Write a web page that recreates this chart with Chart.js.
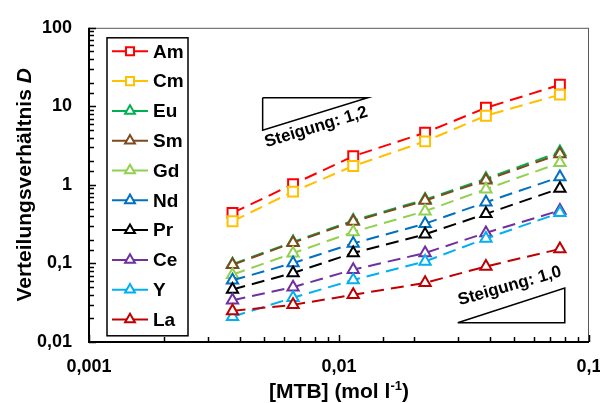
<!DOCTYPE html>
<html lang="de">
<head>
<meta charset="utf-8">
<title>Verteilungsverhältnis</title>
<script src="https://cdn.jsdelivr.net/npm/chart.js@4/dist/chart.umd.min.js"></script>
<style>
  html, body { margin: 0; padding: 0; background: #fff; }
  #wrap { width: 600px; height: 403px; }
</style>
</head>
<body>
<div id="wrap"><canvas id="chart" width="600" height="403"></canvas></div>
<script>
// Daten
const mtb = [0.00375, 0.00655, 0.0114, 0.0221, 0.0387, 0.0765];

const elements = ['Am', 'Cm', 'Eu', 'Sm', 'Gd', 'Nd', 'Pr', 'Ce', 'Y', 'La'];
const am = [0.44, 1.02, 2.32, 4.62, 9.58, 18.8];
const cm = [0.344, 0.82, 1.74, 3.58, 7.6, 14.1];
const eu = [0.098, 0.188, 0.352, 0.65, 1.2, 2.63];
const sm = [0.096, 0.184, 0.342, 0.631, 1.15, 2.48];
const gd = [0.072, 0.135, 0.252, 0.463, 0.883, 1.91];
const nd = [0.061, 0.101, 0.18, 0.321, 0.601, 1.26];
const pr = [0.0467, 0.0755, 0.136, 0.235, 0.428, 0.901];
const ce = [0.034, 0.0499, 0.0834, 0.136, 0.245, 0.473];
const yt = [0.021, 0.0366, 0.0617, 0.106, 0.208, 0.441];
const la = [0.0249, 0.0297, 0.0399, 0.0566, 0.0916, 0.153];
const seriesValues = [am, cm, eu, sm, gd, nd, pr, ce, yt, la];

const yTickLabels = ['0,01', '0,1', '1', '10', '100'];
const xTickLabels = ['0,001', '0,01', '0,1'];

// Steigungsdreiecke (Datenkoordinaten)
const slopeTriangle1 = { x: [0.00495, 0.01303, 0.00495, 0.00495], y: [12.9, 12.9, 4.97, 12.9] };
const slopeTriangle2 = { x: [0.02984, 0.08, 0.08, 0.02984], y: [0.0176, 0.0176, 0.0485, 0.0176] };
const slopeLabels = ['Steigung: 1,2', 'Steigung: 1,0'];
const slopeLabelAnchors = [{ x: 0.0081, y: 5.42, angle: -17 }, { x: 0.0482, y: 0.0514, angle: -16 }];

const colors = ['#FF0000', '#FFC000', '#00B050', '#7E4A1C', '#92D050', '#0070C0', '#000000', '#7030A0', '#00B0F0', '#C00000'];
const styles = ['rect', 'rect', 'triangle', 'triangle', 'triangle', 'triangle', 'triangle', 'triangle', 'triangle', 'triangle'];

const FONT = 'Arial, "Liberation Sans", sans-serif';

function toPoints(xs, ys) {
  return xs.map((x, i) => ({ x: x, y: ys[i] }));
}

// Datensätze bauen
const datasets = elements.map((name, i) => ({
  label: name,
  data: toPoints(mtb, seriesValues[i]),
  borderColor: colors[i],
  backgroundColor: '#fff',
  borderWidth: 2,
  borderDash: [13, 7],
  pointStyle: styles[i],
  pointRadius: styles[i] === 'rect' ? 7 : 6.5,
  pointBorderWidth: 2,
  pointBackgroundColor: '#fff',
  pointBorderColor: colors[i],
  order: -i,
  inLegend: true
}));

[slopeTriangle1, slopeTriangle2].forEach(t => {
  datasets.push({
    label: '',
    data: toPoints(t.x, t.y),
    borderColor: '#000',
    borderWidth: 1.5,
    pointRadius: 0,
    order: 50,
    inLegend: false
  });
});

// Marker für die Legende zeichnen
function drawMarker(ctx, style, cx, cy, r, color) {
  ctx.beginPath();
  if (style === 'rect') {
    const s = r * Math.SQRT1_2;
    ctx.rect(cx - s, cy - s, 2 * s, 2 * s);
  } else {
    ctx.moveTo(cx, cy - r);
    ctx.lineTo(cx + r * 0.866, cy + r / 2);
    ctx.lineTo(cx - r * 0.866, cy + r / 2);
    ctx.closePath();
  }
  ctx.fillStyle = '#fff';
  ctx.fill();
  ctx.strokeStyle = color;
  ctx.lineWidth = 2;
  ctx.stroke();
}

function isMajor(v) {
  const l = Math.log10(v);
  return Math.abs(l - Math.round(l)) < 1e-6;
}

// Rahmen, Ticks, Titel, Legende und Beschriftungen
const decorations = {
  id: 'decorations',
  afterDraw(chart) {
    const { ctx, chartArea: a, scales: { x, y } } = chart;
    ctx.save();

    // Rahmen
    ctx.strokeStyle = '#595959';
    ctx.lineWidth = 1;
    ctx.strokeRect(a.left + 0.5, a.top + 0.5, a.right - a.left - 1, a.bottom - a.top);
    ctx.strokeStyle = '#000';
    ctx.lineWidth = 2;
    ctx.beginPath();
    ctx.moveTo(a.left, a.top);
    ctx.lineTo(a.left, a.bottom);
    ctx.lineTo(a.right, a.bottom);
    ctx.stroke();

    // Ticks nach innen
    ctx.lineWidth = 1.5;
    y.ticks.forEach(t => {
      const py = Math.round(y.getPixelForValue(t.value)) + 0.5;
      const len = isMajor(t.value) ? 7 : 5;
      ctx.beginPath();
      ctx.moveTo(a.left, py);
      ctx.lineTo(a.left + len, py);
      ctx.stroke();
    });
    x.ticks.forEach(t => {
      const px = Math.round(x.getPixelForValue(t.value)) + 0.5;
      const len = isMajor(t.value) ? 7 : 5;
      ctx.beginPath();
      ctx.moveTo(px, a.bottom);
      ctx.lineTo(px, a.bottom - len);
      ctx.stroke();
    });

    // Y-Achsentitel
    ctx.fillStyle = '#000';
    ctx.textBaseline = 'middle';
    ctx.save();
    ctx.translate(25, (a.top + a.bottom) / 2);
    ctx.rotate(-Math.PI / 2);
    const partA = 'Verteilungsverhältnis ';
    ctx.font = 'bold 21px ' + FONT;
    const wA = ctx.measureText(partA).width;
    ctx.font = 'italic bold 21px ' + FONT;
    const wD = ctx.measureText('D').width;
    let sx = -(wA + wD) / 2;
    ctx.textAlign = 'left';
    ctx.font = 'bold 21px ' + FONT;
    ctx.fillText(partA, sx, 0);
    ctx.font = 'italic bold 21px ' + FONT;
    ctx.fillText('D', sx + wA, 0);
    ctx.restore();

    // X-Achsentitel mit Hochzahl
    const t1 = '[MTB] (mol l', t2 = '-1', t3 = ')';
    ctx.font = 'bold 21px ' + FONT;
    const w1 = ctx.measureText(t1).width;
    const w3 = ctx.measureText(t3).width;
    ctx.font = 'bold 13px ' + FONT;
    const w2 = ctx.measureText(t2).width;
    const cx = (a.left + a.right) / 2;
    const ty = 392;
    let tx = cx - (w1 + w2 + w3) / 2;
    ctx.textAlign = 'left';
    ctx.font = 'bold 21px ' + FONT;
    ctx.fillText(t1, tx, ty);
    ctx.font = 'bold 13px ' + FONT;
    ctx.fillText(t2, tx + w1, ty - 6);
    ctx.font = 'bold 21px ' + FONT;
    ctx.fillText(t3, tx + w1 + w2, ty);

    // Steigungs-Beschriftungen
    ctx.font = 'bold 17px ' + FONT;
    ctx.textAlign = 'center';
    slopeLabels.forEach((label, i) => {
      const p = slopeLabelAnchors[i];
      ctx.save();
      ctx.translate(x.getPixelForValue(p.x), y.getPixelForValue(p.y));
      ctx.rotate(p.angle * Math.PI / 180);
      ctx.fillText(label, 0, 0);
      ctx.restore();
    });

    // Legende
    const items = chart.data.datasets.filter(d => d.inLegend);
    const bx = a.left + 18, by = a.top + 10, bw = 81, bh = 298;
    ctx.fillStyle = '#fff';
    ctx.fillRect(bx, by, bw, bh);
    ctx.strokeStyle = '#000';
    ctx.lineWidth = 1.5;
    ctx.strokeRect(bx, by, bw, bh);
    ctx.font = 'bold 19px ' + FONT;
    ctx.textAlign = 'left';
    items.forEach((d, i) => {
      const ry = by + 13.5 + i * 29.8;
      ctx.strokeStyle = d.borderColor;
      ctx.lineWidth = 2;
      ctx.beginPath();
      ctx.moveTo(bx + 5, ry);
      ctx.lineTo(bx + 41, ry);
      ctx.stroke();
      drawMarker(ctx, d.pointStyle, bx + 23, ry, 5.7, d.borderColor);
      ctx.fillStyle = '#000';
      ctx.fillText(d.label, bx + 46, ry + 1);
    });

    ctx.restore();
  }
};

const chart = new Chart(document.getElementById('chart').getContext('2d'), {
  type: 'line',
  data: { datasets: datasets },
  options: {
    responsive: false,
    animation: false,
    devicePixelRatio: 1,
    layout: { padding: { top: 23, right: 11, left: 0, bottom: 0 } },
    plugins: { legend: { display: false }, tooltip: { enabled: false } },
    scales: {
      x: {
        type: 'logarithmic',
        min: 0.001,
        max: 0.1,
        grid: { display: false, drawTicks: false },
        border: { display: false },
        ticks: {
          autoSkip: false,
          maxRotation: 0,
          padding: 14,
          color: '#000',
          font: { family: FONT, size: 18, weight: 'bold' },
          callback: (v) => isMajor(v) ? xTickLabels[Math.round(Math.log10(v)) + 3] : ''
        },
        afterFit: (s) => { s.height = 61; s.paddingLeft = 0; s.paddingRight = 0; }
      },
      y: {
        type: 'logarithmic',
        min: 0.01,
        max: 100,
        grid: { display: false, drawTicks: false },
        border: { display: false },
        ticks: {
          autoSkip: false,
          padding: 17,
          color: '#000',
          font: { family: FONT, size: 18, weight: 'bold' },
          callback: (v) => isMajor(v) ? yTickLabels[Math.round(Math.log10(v)) + 2] : ''
        },
        afterFit: (s) => { s.width = 89; }
      }
    }
  },
  plugins: [decorations]
});
</script>
</body>
</html>
